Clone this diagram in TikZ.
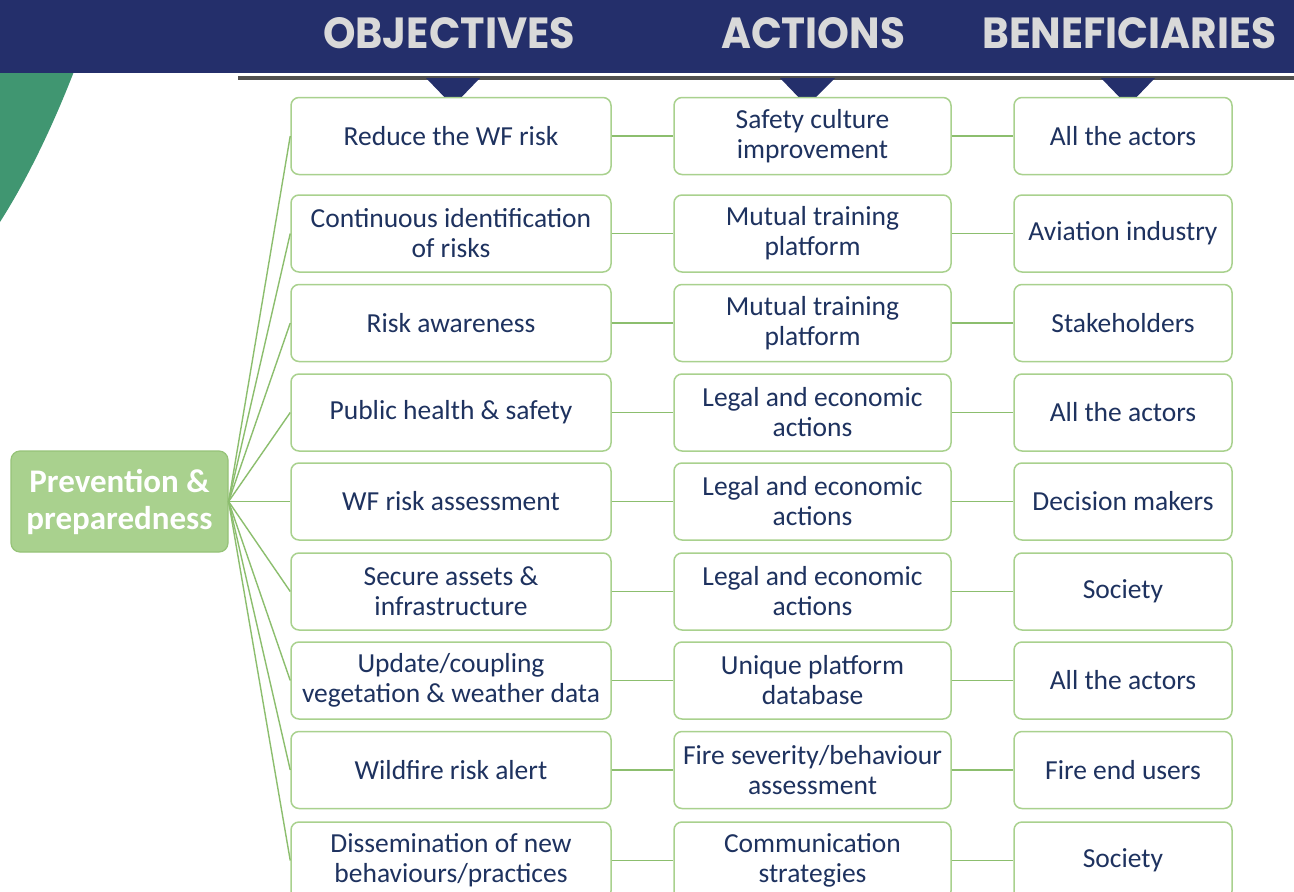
\documentclass[tikz,border=0pt]{standalone}
\usepackage{graphicx}
\usepackage{fontspec}
\setmainfont{Carlito}
\newfontfamily\headfont{Poppins}
\definecolor{navy}{RGB}{36,47,107}
\definecolor{txtblue}{RGB}{30,50,95}
\definecolor{boxgreen}{RGB}{169,209,142}
\definecolor{rootborder}{RGB}{150,195,120}
\definecolor{linegreen}{RGB}{140,190,110}
\definecolor{tealshape}{RGB}{64,150,113}
\definecolor{headgray}{RGB}{217,217,217}
\definecolor{rulegray}{RGB}{80,80,80}
\begin{document}
\begin{tikzpicture}[x=1pt,y=-1pt,
  box/.style={draw=boxgreen, line width=1.5pt, rounded corners=8pt, fill=white, text=txtblue,
    align=center, font=\fontsize{27.5}{30}\selectfont, inner sep=0pt, minimum height=77pt},
  cA/.style={box, minimum width=320pt},
  cB/.style={box, minimum width=277pt},
  cC/.style={box, minimum width=218pt},
  rootbox/.style={draw=rootborder, line width=1.2pt, fill=boxgreen, rounded corners=9pt, text=white,
    align=center, font=\fontsize{33}{37}\selectfont\bfseries, inner sep=0pt,
    minimum width=217pt, minimum height=101pt},
  link/.style={draw=linegreen, line width=1.4pt},
  head/.style={text=headgray, inner sep=0pt, anchor=base west}]
\useasboundingbox (0,0) rectangle (1294,892);
\clip (0,0) rectangle (1294,892);
\fill[white] (0,0) rectangle (1294,892);
% decorative green shape
\fill[tealshape] (0,60) -- (78,60) -- (73,74) .. controls (55,120) and (30,175) .. (0,222) -- cycle;
% header band
\fill[navy] (0,0) rectangle (1294,73);
\node[head] (hObj) at (323,48) {\resizebox{252pt}{31pt}{\headfont\bfseries OBJECTIVES}};
\node[head] (hAct) at (721,48) {\resizebox{184pt}{31pt}{\headfont\bfseries ACTIONS}};
\node[head] (hBen) at (982,48) {\resizebox{294pt}{31pt}{\headfont\bfseries BENEFICIARIES}};
\draw[rulegray, line width=3.5pt] (238,78) -- (1294,78);
\fill[navy] (426,78) -- (480,78) -- (453,106) -- cycle;
\fill[navy] (780,78) -- (835,78) -- (807,106) -- cycle;
\fill[navy] (1101,78) -- (1155,78) -- (1128,106) -- cycle;
% root
\node[rootbox] (root) at (119.5,501.5) {Prevention \&\\preparedness};
% rows
\node[cA] (o1) at (451,136) {Reduce the WF risk};
\node[cB] (a1) at (812.5,136) {Safety culture\\improvement};
\node[cC] (b1) at (1123,136) {All the actors};
\node[cA] (o2) at (451,233.5) {Continuous identification\\of risks};
\node[cB] (a2) at (812.5,233.5) {Mutual training\\platform};
\node[cC] (b2) at (1123,233.5) {Aviation industry};
\node[cA] (o3) at (451,323) {Risk awareness};
\node[cB] (a3) at (812.5,323) {Mutual training\\platform};
\node[cC] (b3) at (1123,323) {Stakeholders};
\node[cA] (o4) at (451,412.5) {Public health \& safety};
\node[cB] (a4) at (812.5,412.5) {Legal and economic\\actions};
\node[cC] (b4) at (1123,412.5) {All the actors};
\node[cA] (o5) at (451,501.5) {WF risk assessment};
\node[cB] (a5) at (812.5,501.5) {Legal and economic\\actions};
\node[cC] (b5) at (1123,501.5) {Decision makers};
\node[cA] (o6) at (451,591.5) {Secure assets \&\\infrastructure};
\node[cB] (a6) at (812.5,591.5) {Legal and economic\\actions};
\node[cC] (b6) at (1123,591.5) {Society};
\node[cA] (o7) at (451,680.5) {Update/coupling\\vegetation \& weather data};
\node[cB] (a7) at (812.5,680.5) {Unique platform\\database};
\node[cC] (b7) at (1123,680.5) {All the actors};
\node[cA] (o8) at (451,770) {Wildfire risk alert};
\node[cB] (a8) at (812.5,770) {Fire severity/behaviour\\assessment};
\node[cC] (b8) at (1123,770) {Fire end users};
\node[cA] (o9) at (451,860.5) {Dissemination of new\\behaviours/practices};
\node[cB] (a9) at (812.5,860.5) {Communication\\strategies};
\node[cC] (b9) at (1123,860.5) {Society};
% connectors
\foreach \i in {1,...,9}{
  \draw[link] (root.east) -- (o\i.west);
  \draw[link] (o\i.east) -- (a\i.west);
  \draw[link] (a\i.east) -- (b\i.west);
}
\end{tikzpicture}
\end{document}
